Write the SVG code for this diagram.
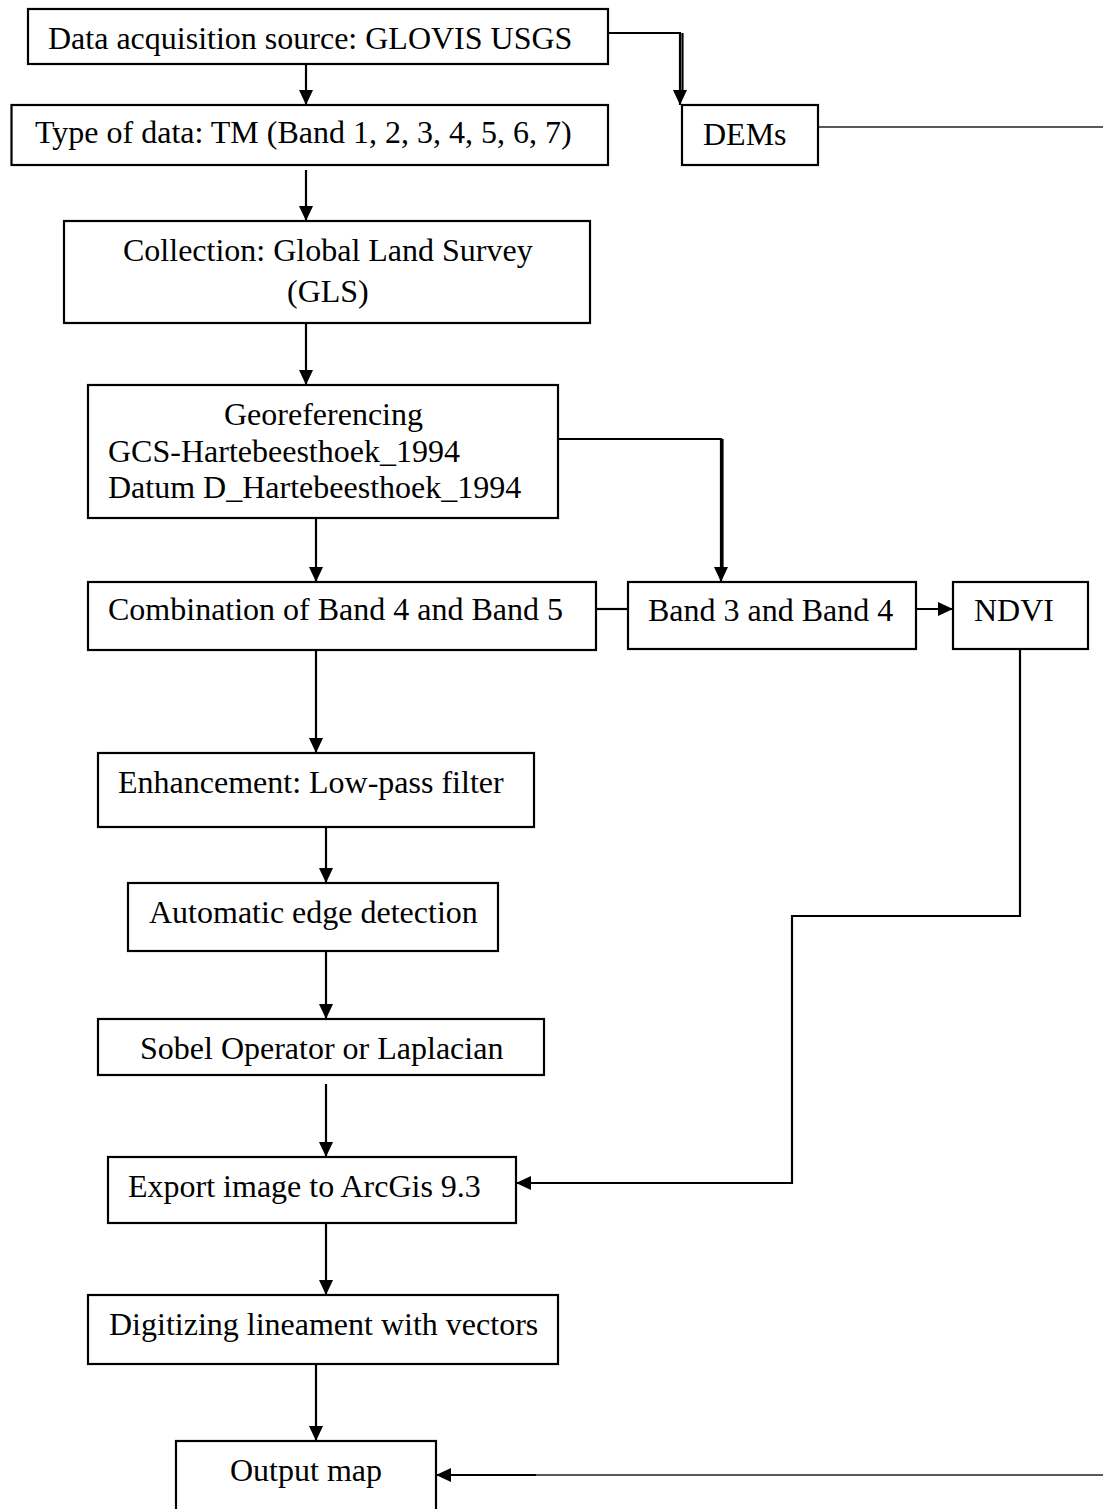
<svg xmlns="http://www.w3.org/2000/svg" width="1103" height="1509" viewBox="0 0 1103 1509">
<defs>
<style>
.box{fill:#fff;stroke:#000;stroke-width:2.2}
.t{font-family:"Liberation Serif","Times New Roman",serif;font-size:32px;fill:#000}
.c{fill:none;stroke:#000;stroke-width:2.2}
.thin{fill:none;stroke:#222;stroke-width:1.6}
</style>
<marker id="ah" markerUnits="userSpaceOnUse" markerWidth="16" markerHeight="16" refX="15" refY="7" orient="auto">
<path d="M0,0 L15,7 L0,14 Z" fill="#000"/>
</marker>
</defs>
<rect width="1103" height="1509" fill="#fff"/>

<g id="connectors">
<path class="c" d="M306,64 V105" marker-end="url(#ah)"/>
<path class="c" d="M306,170 V221" marker-end="url(#ah)"/>
<path class="c" d="M306,323 V385" marker-end="url(#ah)"/>
<path class="c" d="M608,33 H680 V105" marker-end="url(#ah)"/>
<path class="c" d="M682.5,33 V96"/>
<path class="thin" d="M818,127 H1103"/>
<path class="c" d="M558,439 H721 V582" marker-end="url(#ah)"/>
<path class="c" d="M722.5,439 V570"/>
<path class="c" d="M316,518 V582" marker-end="url(#ah)"/>
<path class="c" d="M596,609 H628"/>
<path class="c" d="M916,609 H953" marker-end="url(#ah)"/>
<path class="c" d="M1020,649 V916 H792 V1183 H516" marker-end="url(#ah)"/>
<path class="c" d="M316,650 V753" marker-end="url(#ah)"/>
<path class="c" d="M326,827 V883" marker-end="url(#ah)"/>
<path class="c" d="M326,951 V1019" marker-end="url(#ah)"/>
<path class="c" d="M326,1084 V1157" marker-end="url(#ah)"/>
<path class="c" d="M326,1223 V1295" marker-end="url(#ah)"/>
<path class="c" d="M316,1364 V1441" marker-end="url(#ah)"/>
<path class="thin" d="M1103,1475 H535"/>
<path class="c" d="M536,1475 H436" marker-end="url(#ah)"/>
</g>

<g id="n1"><rect class="box" x="28" y="9" width="580" height="55"/><text class="t" x="48" y="49">Data acquisition source: GLOVIS USGS</text></g>
<g id="n2"><rect class="box" x="11.5" y="105" width="596.5" height="60"/><text class="t" x="35" y="143">Type of data: TM (Band 1, 2, 3, 4, 5, 6, 7)</text></g>
<g id="n3"><rect class="box" x="64" y="221" width="526" height="102"/><text class="t" x="123" y="261">Collection: Global Land Survey</text><text class="t" x="287" y="302">(GLS)</text></g>
<g id="dems"><rect class="box" x="682" y="105" width="136" height="60"/><text class="t" x="703" y="145">DEMs</text></g>
<g id="georef"><rect class="box" x="88" y="385" width="470" height="133"/><text class="t" x="224" y="425">Georeferencing</text><text class="t" x="108" y="462">GCS-Hartebeesthoek_1994</text><text class="t" x="108" y="498">Datum D_Hartebeesthoek_1994</text></g>
<g id="comb"><rect class="box" x="88" y="582" width="508" height="68"/><text class="t" x="108" y="620">Combination of Band 4 and Band 5</text></g>
<g id="band34"><rect class="box" x="628" y="582" width="288" height="67"/><text class="t" x="648" y="621">Band 3 and Band 4</text></g>
<g id="ndvi"><rect class="box" x="953" y="582" width="135" height="67"/><text class="t" x="974" y="621">NDVI</text></g>
<g id="enh"><rect class="box" x="98" y="753" width="436" height="74"/><text class="t" x="118" y="793">Enhancement: Low-pass filter</text></g>
<g id="edge"><rect class="box" x="128" y="883" width="370" height="68"/><text class="t" x="149" y="923">Automatic edge detection</text></g>
<g id="sobel"><rect class="box" x="98" y="1019" width="446" height="56"/><text class="t" x="140" y="1059">Sobel Operator or Laplacian</text></g>
<g id="export"><rect class="box" x="108" y="1157" width="408" height="66"/><text class="t" x="128" y="1197">Export image to ArcGis 9.3</text></g>
<g id="digit"><rect class="box" x="88" y="1295" width="470" height="69"/><text class="t" x="109" y="1335">Digitizing lineament with vectors</text></g>
<g id="output"><rect class="box" x="176" y="1441" width="260" height="80"/><text class="t" x="230" y="1481">Output map</text></g>
</svg>
